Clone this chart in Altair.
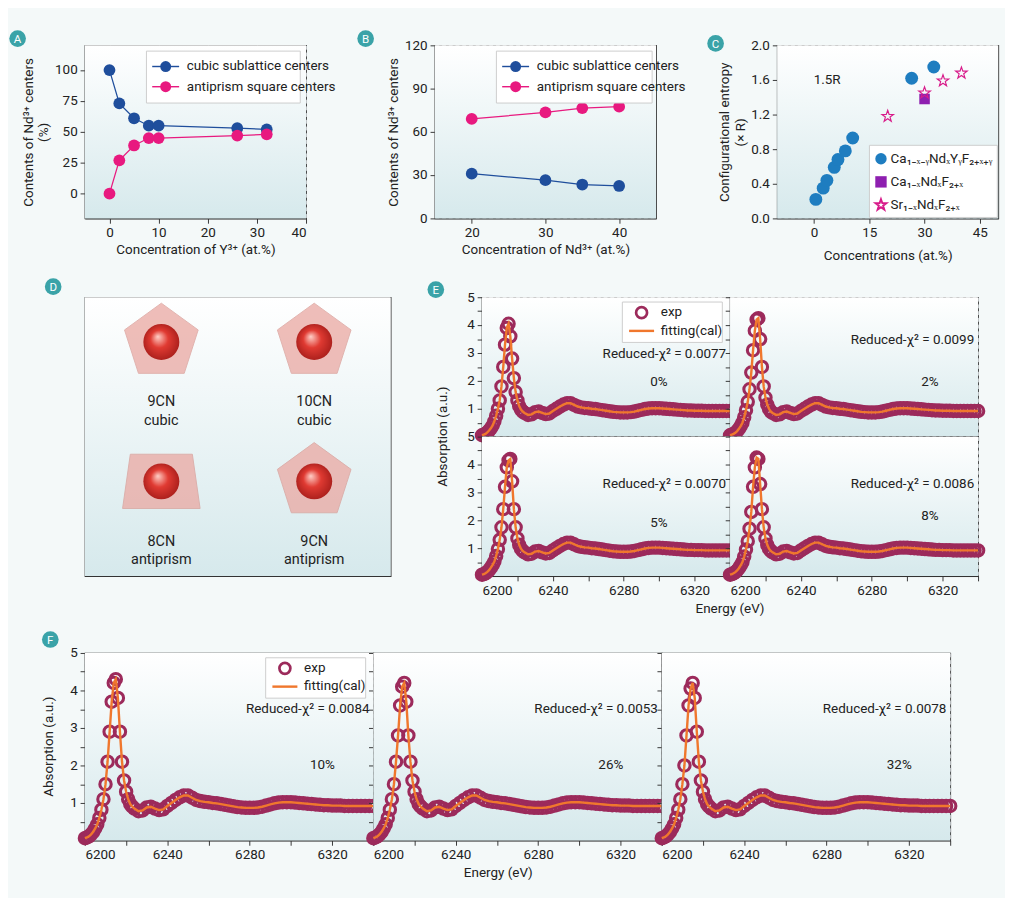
import altair as alt
import pandas as pd

# ---------------- data ----------------
# panel A
y_conc = [0, 2, 5, 8, 10, 26, 32]
a_cubic = [100, 73, 61, 55, 55, 53, 52]
a_anti = [0, 27, 39, 45, 45, 47, 48]
# panel B
nd_conc = [20, 30, 35, 40]
b_cubic = [31, 26.5, 23.5, 22.5]
b_anti = [69, 73.5, 76.5, 77.5]
# panel C
c_circ_x = [0.5, 2.5, 3.5, 5.5, 6.5, 8.5, 10.5, 26.5, 32.5]
c_circ_y = [0.22, 0.35, 0.44, 0.59, 0.68, 0.78, 0.93, 1.62, 1.75]
c_sq_x = [30]
c_sq_y = [1.38]
c_star_x = [20, 30, 35, 40]
c_star_y = [1.18, 1.45, 1.59, 1.68]

# spectra: energy grid, shared tail, per-sample edge region
energy = list(range(6200, 6224)) + list(range(6224, 6341, 2))
tail = [0.85, 0.78, 0.8, 0.88, 0.9, 0.85, 0.81, 0.83, 0.92, 1.0, 1.08, 1.15, 1.2, 1.2, 1.14,
        1.08, 1.05, 1.03, 1.02, 1.0, 0.99, 0.97, 0.95, 0.93, 0.91, 0.89, 0.88, 0.87, 0.87,
        0.87, 0.88, 0.9, 0.93, 0.96, 0.99, 1.01, 1.02, 1.02, 1.02, 1.01, 1.0, 0.99, 0.98,
        0.97, 0.96, 0.95, 0.94, 0.94, 0.93, 0.93, 0.93, 0.92, 0.92, 0.92, 0.92, 0.92, 0.92,
        0.92, 0.92]
edge = {
    "0%": [0.05, 0.07, 0.1, 0.15, 0.22, 0.3, 0.4, 0.55, 0.75, 1.0, 1.3, 1.8, 2.5, 3.3, 3.9, 4.05,
           3.6, 2.8, 2.1, 1.6, 1.3, 1.1, 0.97, 0.9],
    "2%": [0.05, 0.07, 0.1, 0.14, 0.2, 0.28, 0.38, 0.5, 0.7, 0.95, 1.25, 1.7, 2.3, 3.1, 3.8, 4.2,
           4.25, 3.5, 2.5, 1.8, 1.4, 1.15, 1.0, 0.9],
    "5%": [0.05, 0.07, 0.1, 0.15, 0.21, 0.3, 0.4, 0.52, 0.72, 0.97, 1.3, 1.75, 2.4, 3.2, 3.9, 4.15,
           4.2, 3.4, 2.4, 1.75, 1.35, 1.12, 0.98, 0.9],
    "8%": [0.05, 0.07, 0.1, 0.14, 0.2, 0.28, 0.38, 0.5, 0.7, 0.95, 1.25, 1.7, 2.3, 3.2, 3.9, 4.25,
           4.2, 3.3, 2.4, 1.75, 1.35, 1.12, 0.98, 0.9],
    "10%": [0.06, 0.08, 0.11, 0.16, 0.23, 0.32, 0.43, 0.6, 0.82, 1.1, 1.5, 2.1, 2.9, 3.7, 4.2, 4.3,
            3.8, 2.9, 2.1, 1.6, 1.3, 1.1, 0.97, 0.9],
    "26%": [0.06, 0.08, 0.11, 0.16, 0.23, 0.32, 0.43, 0.6, 0.82, 1.1, 1.5, 2.1, 2.8, 3.6, 4.1, 4.2,
            3.7, 2.8, 2.1, 1.6, 1.3, 1.1, 0.97, 0.9],
    "32%": [0.06, 0.08, 0.11, 0.16, 0.23, 0.32, 0.43, 0.6, 0.82, 1.1, 1.5, 2.0, 2.8, 3.6, 4.05, 4.2,
            3.8, 2.9, 2.1, 1.6, 1.3, 1.1, 0.97, 0.9],
}
chi = {"0%": "0.0077", "2%": "0.0099", "5%": "0.0070", "8%": "0.0086",
       "10%": "0.0084", "26%": "0.0053", "32%": "0.0078"}

BLUE = "#1f4e9c"
PINK = "#e8197f"
PURPLE = "#9c2a5b"
ORANGE = "#f0772d"
TEAL = "#3aa3a8"
FONT = "Roboto"

one = pd.DataFrame({"a": [0]})
grad = alt.Gradient(gradient="linear", x1=0, y1=0, x2=0, y2=1,
                    stops=[alt.GradientStop(color="#ffffff", offset=0),
                           alt.GradientStop(color="#d6e9ec", offset=1)])


def bg():
    return alt.Chart(one).mark_rect(fill=grad).encode(
        x=alt.value(0), x2=alt.value("width"), y=alt.value(0), y2=alt.value("height"))


def label(text, x, y, size=14, **kw):
    return alt.Chart(one).mark_text(text=text, fontSize=size, font=FONT, color="#222", **kw).encode(
        x=alt.value(x), y=alt.value(y))


def badge(letter, x, y):
    p = alt.Chart(one).mark_point(filled=True, color=TEAL, size=300, opacity=1).encode(
        x=alt.value(x), y=alt.value(y))
    t = alt.Chart(one).mark_text(text=letter, color="white", fontSize=12, font=FONT).encode(
        x=alt.value(x), y=alt.value(y + 1))
    return p + t


def line_legend(x, y, w, labels, colors):
    box = alt.Chart(one).mark_rect(fill="white", stroke="#cccccc", strokeWidth=1).encode(
        x=alt.value(x), x2=alt.value(x + w), y=alt.value(y), y2=alt.value(y + 12 + 21 * len(labels)))
    layers = [box]
    for i, (lab, col) in enumerate(zip(labels, colors)):
        yy = y + 16 + 21 * i
        layers.append(alt.Chart(one).mark_rule(color=col, strokeWidth=1.5).encode(
            x=alt.value(x + 6), x2=alt.value(x + 34), y=alt.value(yy)))
        layers.append(alt.Chart(one).mark_point(filled=True, color=col, size=130, opacity=1).encode(
            x=alt.value(x + 20), y=alt.value(yy)))
        layers.append(label(lab, x + 42, yy, 14, align="left"))
    return alt.layer(*layers)


def two_series(x, s1, s2, xdom, ydom, yticks, xticks):
    df = pd.DataFrame({"x": x * 2, "y": s1 + s2,
                       "s": ["cubic"] * len(x) + ["anti"] * len(x)})
    enc = dict(
        x=alt.X("x:Q", scale=alt.Scale(domain=xdom, nice=False),
                axis=alt.Axis(values=xticks, grid=True)),
        y=alt.Y("y:Q", scale=alt.Scale(domain=ydom, nice=False),
                axis=alt.Axis(values=yticks, grid=True)),
        color=alt.Color("s:N", scale=alt.Scale(domain=["cubic", "anti"], range=[BLUE, PINK]),
                        legend=None),
    )
    base = alt.Chart(df)
    return base.mark_line(strokeWidth=1.3).encode(**enc) + \
        base.mark_point(filled=True, size=150, opacity=1).encode(**enc)


AW, AH = 230, 180
# ---------------- panel A ----------------
pa = two_series(y_conc, a_cubic, a_anti, [-5, 40], [-20, 120], [0, 25, 50, 75, 100],
                [0, 10, 20, 30, 40])
pa = alt.layer(bg(), pa, line_legend(AW - 166, 6, 160, ["cubic sublattice centers", "antiprism square centers"],
                                     [BLUE, PINK]), badge("A", -70, -7)).encode(
    x=alt.X("x:Q", title="Concentration of Y³⁺ (at.%)",
            axis=alt.Axis(values=[0, 10, 20, 30, 40], titlePadding=10,
                          labelExpr="datum.value == 10 ? '15' : datum.label")),
    y=alt.Y("y:Q", title=["Contents of Nd³⁺ centers", "(%)"])
).properties(width=AW, height=AH)

# ---------------- panel B ----------------
pb = two_series(nd_conc, b_cubic, b_anti, [15, 45], [0, 120], [0, 30, 60, 90, 120], [20, 30, 40])
pb = alt.layer(bg(), pb, line_legend(AW - 166, 6, 162, ["cubic sublattice centers", "antiprism square centers"],
                                     [BLUE, PINK]), badge("B", -72, -7)).encode(
    x=alt.X("x:Q", title="Concentration of Nd³⁺ (at.%)", axis=alt.Axis(titlePadding=10)),
    y=alt.Y("y:Q", title="Contents of Nd³⁺ centers")
).properties(width=AW, height=AH)

# ---------------- panel C ----------------
STAR = ("M0,-1L0.235,-0.324L0.951,-0.309L0.38,0.124L0.588,0.809L0,0.4L-0.588,0.809"
        "L-0.38,0.124L-0.951,-0.309L-0.235,-0.324Z")
cx = alt.X("x:Q", title="Concentrations (at.%)", scale=alt.Scale(domain=[-10, 50], nice=False),
           axis=alt.Axis(values=[0, 15, 30, 45], gridDash=[], gridColor="#aaaaaa", titlePadding=10))
cy = alt.Y("y:Q", title=["Configurational entropy", "(× R)"], scale=alt.Scale(domain=[0, 2], nice=False),
           axis=alt.Axis(values=[0, 0.4, 0.8, 1.2, 1.6, 2.0], format=".1f"))
c_circ = alt.Chart(pd.DataFrame({"x": c_circ_x, "y": c_circ_y})).mark_point(
    filled=True, size=180, color="#1e7dc0", opacity=1).encode(x=cx, y=cy)
c_sq = alt.Chart(pd.DataFrame({"x": c_sq_x, "y": c_sq_y})).mark_point(
    shape="square", filled=True, size=120, color="#8e1fb0", opacity=1).encode(x=cx, y=cy)
c_star = alt.Chart(pd.DataFrame({"x": c_star_x, "y": c_star_y})).mark_point(
    shape=STAR, filled=False, size=160, color="#d81b8a", strokeWidth=1.2, opacity=1).encode(x=cx, y=cy)
c_box = alt.Chart(one).mark_rect(fill="white", stroke="#cccccc").encode(
    x=alt.value(AW - 134), x2=alt.value(AW - 1), y=alt.value(AH - 76), y2=alt.value(AH - 1))
c_leg = [c_box]
for i, (lab, shp, col, fil) in enumerate([
        ("Ca₁₋ₓ₋ᵧNdₓYᵧF₂₊ₓ₊ᵧ", "circle", "#1e7dc0", True),
        ("Ca₁₋ₓNdₓF₂₊ₓ", "square", "#8e1fb0", True),
        ("Sr₁₋ₓNdₓF₂₊ₓ", STAR, "#d81b8a", False)]):
    yy = AH - 62 + 24 * i
    c_leg.append(alt.Chart(one).mark_point(shape=shp, filled=fil, size=140, color=col, opacity=1).encode(
        x=alt.value(AW - 122), y=alt.value(yy)))
    c_leg.append(label(lab, AW - 112, yy, 14, align="left"))
pc = alt.layer(bg(), c_circ, c_sq, c_star, label("1.5R", 52, 36), *c_leg,
               badge("C", -64, -2)).properties(width=AW, height=AH)

# ---------------- panel D ----------------
PENT = "M0,-1L0.95,-0.31L0.59,0.81L-0.59,0.81L-0.95,-0.31Z"
TRAP = "M-0.8,-0.7L0.8,-0.7L1,0.7L-1,0.7Z"
sphere = alt.RadialGradient(gradient="radial", x1=0.4, y1=0.35, r1=0, x2=0.5, y2=0.5, r2=0.55,
                            stops=[alt.GradientStop(color="#ffd0c8", offset=0),
                                   alt.GradientStop(color="#e03a32", offset=0.45),
                                   alt.GradientStop(color="#a51d1a", offset=1)])
d_names = ["9CN", "10CN", "8CN", "9CN"]
d_kinds = ["cubic", "cubic", "antiprism", "antiprism"]
d_col = [0.5, 1.5, 0.5, 1.5]
d_row = [0.5, 0.5, 1.5, 1.5]
d_shape = [PENT, PENT, TRAP, PENT]
dx = alt.X("c:Q", scale=alt.Scale(domain=[0, 2]), axis=None)
dy = alt.Y("r:Q", scale=alt.Scale(domain=[0, 2], reverse=True), axis=None)
ddf = pd.DataFrame({"c": d_col, "r": d_row, "n": d_names, "k": d_kinds})
d_layers = [bg()]
for i in range(4):
    d_layers.append(alt.Chart(ddf.iloc[[i]]).mark_point(
        shape=d_shape[i], filled=True, size=6500, color="#eaa8a2", opacity=0.75,
        stroke="#d99a94", strokeWidth=1).encode(x=dx, y=dy, yOffset=alt.value(-26)))
d_layers.append(alt.Chart(ddf).mark_point(filled=True, fill=sphere, size=1400, opacity=1).encode(
    x=dx, y=dy, yOffset=alt.value(-26)))
d_layers.append(alt.Chart(ddf).mark_text(fontSize=15, font=FONT, color="#222").encode(
    x=dx, y=dy, text="n:N", yOffset=alt.value(36)))
d_layers.append(alt.Chart(ddf).mark_text(fontSize=15, font=FONT, color="#222").encode(
    x=dx, y=dy, text="k:N", yOffset=alt.value(55)))
d_layers.append(badge("D", -33, -11))
pd_ = alt.layer(*d_layers).properties(width=318, height=290)


# ---------------- spectra ----------------
def spectrum(key, w, h, ylab, xlab, legend, chi_y, pct_y, pct_x, extra=()):
    df = pd.DataFrame({"e": energy, "a": edge[key] + tail})
    xax = alt.Axis(values=[6200, 6220, 6240, 6260, 6280, 6300, 6320, 6340],
                   labelExpr="datum.value % 40 == 0 && datum.value < 6340 ? datum.label : ''",
                   format="d", grid=True, labels=xlab)
    yax = alt.Axis(values=[0.5, 1, 1.5, 2, 2.5, 3, 3.5, 4, 4.5, 5],
                   labelExpr="datum.value % 1 == 0 ? format(datum.value, 'd') : ''",
                   grid=True, labels=ylab)
    x = alt.X("e:Q", title=None, scale=alt.Scale(domain=[6200, 6340], nice=False), axis=xax)
    y = alt.Y("a:Q", title=None, scale=alt.Scale(domain=[0, 5], nice=False), axis=yax)
    base = alt.Chart(df)
    exp = base.mark_point(filled=False, size=140, strokeWidth=3.2, color=PURPLE, opacity=1).encode(x=x, y=y)
    fit = base.mark_line(color=ORANGE, strokeWidth=2.5).encode(x=x, y=y)
    layers = [bg(), exp, fit, label("Reduced-χ² = " + chi[key], w - 4, chi_y, align="right"),
              label(key, pct_x, pct_y)]
    if legend:
        lx = w - 112
        layers += [
            alt.Chart(one).mark_rect(fill="white", stroke="#cccccc").encode(
                x=alt.value(lx), x2=alt.value(lx + 104), y=alt.value(5), y2=alt.value(47)),
            alt.Chart(one).mark_point(filled=False, size=130, strokeWidth=2.8, color=PURPLE,
                                      opacity=1).encode(x=alt.value(lx + 20), y=alt.value(16)),
            alt.Chart(one).mark_rule(color=ORANGE, strokeWidth=2.5).encode(
                x=alt.value(lx + 7), x2=alt.value(lx + 33), y=alt.value(35)),
            label("exp", lx + 40, 16, align="left"),
            label("fitting(cal)", lx + 40, 35, align="left"),
        ]
    return alt.layer(*layers, *extra).properties(width=w, height=h)


EW, EH = 258, 145
e0 = spectrum("0%", EW, EH, True, False, True, 59, 88, 184,
              [label("Absorption (a.u.)", -40, EH, angle=270), badge("E", -48, -8)])
e2 = spectrum("2%", EW, EH, False, False, False, 45, 88, 208)
e5 = spectrum("5%", EW, EH, True, True, False, 49, 90, 184,
              [label("Energy (eV)", EW, EH + 34)])
e8 = spectrum("8%", EW, EH, False, True, False, 49, 83, 208)
pe = alt.concat(e0, e2, e5, e8, columns=2, spacing=0, bounds="flush")

FW, FH = 300, 195
f10 = spectrum("10%", FW, FH, True, True, True, 58, 117, 247,
               [label("Absorption (a.u.)", -37, FH / 2, angle=270), badge("F", -36, -14)])
f26 = spectrum("26%", FW, FH, False, True, False, 58, 117, 247,
               [label("Energy (eV)", 130, FH + 34)])
f32 = spectrum("32%", FW, FH, False, True, False, 58, 117, 247)
pf = alt.hconcat(f10, f26, f32, spacing=0, bounds="flush")

row1 = alt.hconcat(pa, pb, pc, spacing=20)
row2 = alt.hconcat(pd_, pe, spacing=36)
chart = alt.vconcat(row1, row2, pf, spacing=14).properties(
    background="#f4f9f9", padding={"left": 0, "top": 4, "right": 6, "bottom": 0}
).configure_view(stroke="#333333", strokeWidth=1.2).configure_axis(
    labelFont=FONT, titleFont=FONT, labelFontSize=14, titleFontSize=14, labelColor="#222",
    titleColor="#222", titleFontWeight="normal", gridDash=[4, 3], gridColor="#c4c9cc",
    domainColor="#333", tickColor="#333", labelPadding=3
)

chart.save("out.html", embed_options={"renderer": "svg", "actions": False})
